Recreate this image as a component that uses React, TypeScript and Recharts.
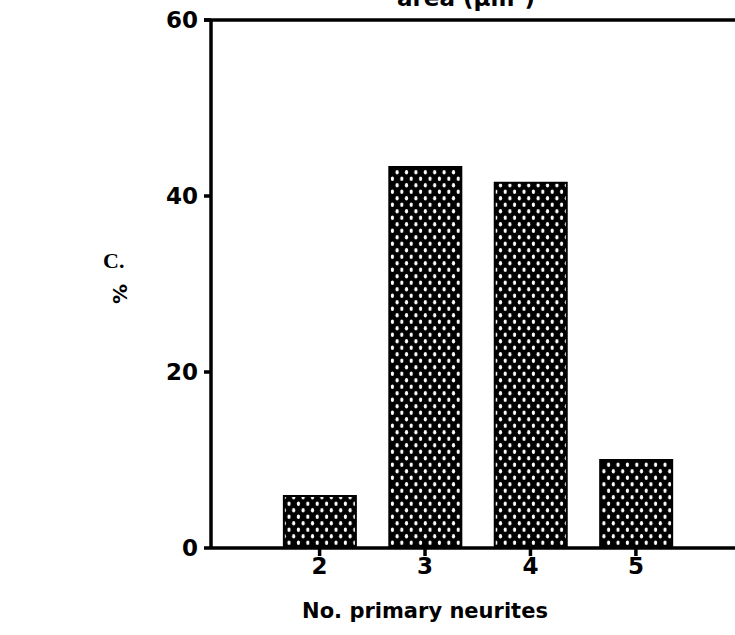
import React from "react";
import { BarChart, Bar, XAxis, YAxis, Customized } from "recharts";

const neurites = [2, 3, 4, 5];
const percent = [5.9, 43.3, 41.5, 10.0];
const yTicks = [0, 20, 40, 60];

const data = neurites.map((n, i) => ({ n, pct: percent[i] }));

const FONT = "'DejaVu Sans', sans-serif";

function Extras() {
  return (
    <g>
      <text x={397} y={6} fontFamily={FONT} fontWeight="bold" fontSize={23} fill="#000">
        area (μm²)
      </text>
      <line x1={204} y1={20} x2={735} y2={20} stroke="#000" strokeWidth={3.5} />
      <text x={103} y={268} fontFamily="'Liberation Serif', serif" fontWeight="bold" fontSize={22} fill="#000">
        C.
      </text>
      <text
        x={120}
        y={294}
        transform="rotate(-90 120 294)"
        textAnchor="middle"
        dominantBaseline="central"
        fontFamily={FONT}
        fontWeight="bold"
        fontSize={20}
        fill="#000"
      >
        %
      </text>
      <text x={425} y={618} textAnchor="middle" fontFamily={FONT} fontWeight="bold" fontSize={21} fill="#000">
        No. primary neurites
      </text>
    </g>
  );
}

export default function App() {
  return (
    <div style={{ position: "absolute", left: 0, top: 0, width: 735, height: 635, background: "#fff" }}>
      <svg width={0} height={0} style={{ position: "absolute" }}>
        <defs>
          <pattern id="dots" width={9.4} height={13} patternUnits="userSpaceOnUse">
            <rect width={9.4} height={13} fill="#000" />
            <ellipse cx={2.3} cy={3.2} rx={1.6} ry={2.3} fill="#fff" />
            <ellipse cx={7} cy={9.7} rx={1.6} ry={2.3} fill="#fff" />
          </pattern>
        </defs>
      </svg>
      <BarChart width={735} height={635} data={data} margin={{ top: 20, right: 0, bottom: 0, left: 131 }}>
        <XAxis
          dataKey="n"
          type="number"
          domain={[0.97, 5.94]}
          ticks={neurites}
          allowDataOverflow
          height={87}
          axisLine={{ stroke: "#000", strokeWidth: 3.5 }}
          tickLine={{ stroke: "#000", strokeWidth: 3.5 }}
          tickSize={8}
          tick={{ fill: "#000", fontFamily: FONT, fontWeight: "bold", fontSize: 23 }}
        />
        <YAxis
          type="number"
          domain={[0, 60]}
          ticks={yTicks}
          width={80}
          axisLine={{ stroke: "#000", strokeWidth: 3.5 }}
          tickLine={{ stroke: "#000", strokeWidth: 3.5 }}
          tickSize={7}
          tickMargin={6}
          tick={{ fill: "#000", fontFamily: FONT, fontWeight: "bold", fontSize: 23 }}
        />
        <Bar
          dataKey="pct"
          barSize={72}
          fill="url(#dots)"
          stroke="#000"
          strokeWidth={2}
          isAnimationActive={false}
        />
        <Customized component={Extras} />
      </BarChart>
    </div>
  );
}
